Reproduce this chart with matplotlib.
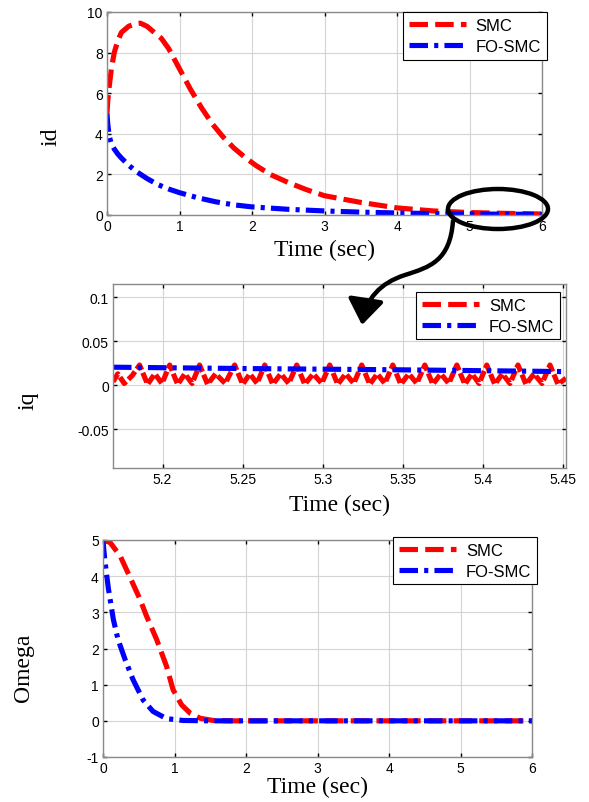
import matplotlib
matplotlib.use("Agg")
from matplotlib import pyplot as plt
from matplotlib.patches import Ellipse, FancyArrowPatch
from matplotlib.path import Path

plt.rcParams["axes.unicode_minus"] = False

# id response (top)
id_smc_t = [0, 0.01, 0.03, 0.06, 0.1, 0.15, 0.2, 0.3, 0.4, 0.46, 0.55, 0.65, 0.75, 0.85, 1.0,
            1.15, 1.3, 1.45, 1.6, 1.75, 1.9, 2.05, 2.25, 2.5, 2.75, 3.0, 3.5, 4.0, 4.5,
            5.0, 5.5, 6.0]
id_smc = [5.0, 5.6, 6.3, 7.2, 8.0, 8.6, 9.0, 9.3, 9.43, 9.45, 9.3, 9.0, 8.7, 8.2, 7.2,
          6.2, 5.3, 4.5, 3.85, 3.3, 2.85, 2.45, 2.0, 1.6, 1.25, 0.95, 0.62, 0.35, 0.2,
          0.12, 0.08, 0.05]
id_fo_t = [0, 0.01, 0.03, 0.06, 0.1, 0.15, 0.2, 0.3, 0.4, 0.55, 0.7, 0.85, 1.0, 1.25,
           1.5, 1.75, 2.0, 2.5, 3.0, 3.5, 4.0, 4.5, 5.0, 5.5, 6.0]
id_fo = [5.0, 4.5, 3.9, 3.5, 3.25, 3.0, 2.8, 2.45, 2.15, 1.8, 1.5, 1.28, 1.1, 0.85,
         0.65, 0.5, 0.4, 0.28, 0.2, 0.14, 0.1, 0.07, 0.05, 0.04, 0.03]

# iq zoom (middle): chattering of SMC, peaks and the small bumps between them
iq_smc_t = [5.169, 5.172, 5.176, 5.181,
            5.1856, 5.1906, 5.1951, 5.1996,
            5.2044, 5.2094, 5.2139, 5.2184,
            5.2231, 5.2281, 5.2331, 5.2391,
            5.245, 5.25, 5.2545, 5.259,
            5.2638, 5.2688, 5.2738, 5.2788,
            5.2838, 5.2888, 5.2941, 5.2994,
            5.3044, 5.3094, 5.3144, 5.3194,
            5.3244, 5.3294, 5.3341, 5.3388,
            5.3438, 5.3488, 5.3538, 5.3588,
            5.3638, 5.3688, 5.3738, 5.3788,
            5.3838, 5.3888, 5.3932, 5.3977,
            5.4025, 5.4075, 5.4122, 5.417,
            5.422, 5.427, 5.432, 5.437,
            5.442, 5.447, 5.452]
iq_smc = [0.004, 0.013, 0.002, 0.011,
          0.023, 0.001, 0.013, 0.002,
          0.023, 0.001, 0.013, 0.002,
          0.023, 0.001, 0.013, 0.002,
          0.023, 0.001, 0.013, 0.002,
          0.023, 0.001, 0.013, 0.002,
          0.023, 0.001, 0.013, 0.002,
          0.023, 0.001, 0.013, 0.002,
          0.023, 0.001, 0.013, 0.002,
          0.023, 0.001, 0.013, 0.002,
          0.023, 0.001, 0.013, 0.002,
          0.023, 0.001, 0.013, 0.002,
          0.023, 0.001, 0.013, 0.002,
          0.023, 0.001, 0.013, 0.002,
          0.023, 0.001, 0.008]
iq_fo_t = [5.169, 5.25, 5.35, 5.452]
iq_fo = [0.0205, 0.019, 0.0175, 0.0155]

# omega (bottom)
w_smc_t = [0, 0.1, 0.24, 0.38, 0.52, 0.61, 0.75, 0.89, 0.98, 1.1, 1.22, 1.36, 1.54,
           1.8, 2.5, 3, 4, 5, 6]
w_smc = [5.0, 4.93, 4.56, 3.96, 3.35, 2.89, 2.25, 1.5, 0.86, 0.44, 0.21, 0.07, 0.01,
         0, 0, 0, 0, 0, 0]
w_fo_t = [0, 0.01, 0.03, 0.075, 0.145, 0.21, 0.31, 0.42, 0.56, 0.7, 0.89, 1.12, 1.5,
          2, 3, 4, 5, 6]
w_fo = [5.0, 4.75, 4.37, 3.66, 2.8, 2.25, 1.69, 1.14, 0.58, 0.26, 0.06, 0.01, 0,
        0, 0, 0, 0, 0]

labels = ["SMC", "FO-SMC"]

SANS = "Liberation Sans"
SERIF = "Liberation Serif"
W, H = 589, 803


def style_axes(ax):
    ax.grid(True, color="#d4d4d4", lw=0.8)
    ax.set_axisbelow(True)
    for s in ax.spines.values():
        s.set_color("#8a8a8a")
        s.set_linewidth(1.0)
    ax.tick_params(direction="in", length=3, width=1, color="black", top=True, right=True,
                   labelsize=10, pad=3)
    for lab in ax.get_xticklabels() + ax.get_yticklabels():
        lab.set_fontfamily(SANS)


def draw(ax, t1, v1, t2, v2, red_dashes=(3.6, 1.4)):
    ax.plot(t1, v1, color="red", lw=3.7, dashes=red_dashes, dash_capstyle="butt",
            label=labels[0])
    ax.plot(t2, v2, color="blue", lw=3.7, dashes=(3.6, 1.2, 0.8, 1.2),
            dash_capstyle="butt", label=labels[1])


def legend(ax, x, y):
    leg = ax.legend(loc="upper right", bbox_to_anchor=(x, y), borderaxespad=0,
                    fancybox=False, framealpha=1, edgecolor="black", handlelength=3.4,
                    prop={"family": SANS, "size": 12}, labelspacing=0.35,
                    borderpad=0.35, handletextpad=0.6)
    leg.get_frame().set_linewidth(0.8)
    # keep the legend sample with the long dashes
    leg.get_lines()[0].set_dashes((3.6, 1.4))


def axes_px(left, right, top, bottom):
    return fig.add_axes([left / W, 1 - bottom / H, (right - left) / W, (bottom - top) / H])


fig = plt.figure(figsize=(W / 100, H / 100), dpi=100)

# top: id
ax1 = axes_px(107, 542, 13, 216)
draw(ax1, id_smc_t, id_smc, id_fo_t, id_fo)
ax1.set_xlim(0, 6)
ax1.set_ylim(0, 10)
ax1.set_xticks(range(7))
ax1.set_yticks(range(0, 11, 2))
style_axes(ax1)
ax1.set_xlabel("Time (sec)", family=SERIF, fontsize=17)
ax1.xaxis.set_label_coords(0.5, -0.118)
ax1.set_ylabel("id", family=SERIF, fontsize=17)
ax1.yaxis.set_label_coords(-0.105, 0.39)
legend(ax1, 1.011, 1.0)

# middle: iq zoom
ax2 = axes_px(113, 566, 285, 469)
draw(ax2, iq_smc_t, iq_smc, iq_fo_t, iq_fo, red_dashes=(2.0, 0.6))
ax2.set_xlim(5.169, 5.452)
ax2.set_ylim(-0.094, 0.115)
ax2.set_xticks([5.2, 5.25, 5.3, 5.35, 5.4, 5.45])
ax2.set_xticklabels(["5.2", "5.25", "5.3", "5.35", "5.4", "5.45"])
ax2.set_yticks([-0.05, 0, 0.05, 0.1])
ax2.set_yticklabels(["-0.05", "0", "0.05", "0.1"])
style_axes(ax2)
ax2.set_xlabel("Time (sec)", family=SERIF, fontsize=17)
ax2.xaxis.set_label_coords(0.5, -0.14)
ax2.set_ylabel("iq", family=SERIF, fontsize=17)
ax2.yaxis.set_label_coords(-0.165, 0.37)
legend(ax2, 0.987, 0.957)

# bottom: omega
ax3 = axes_px(103, 532, 541, 758)
draw(ax3, w_smc_t, w_smc, w_fo_t, w_fo)
ax3.set_xlim(0, 6)
ax3.set_ylim(-1, 5)
ax3.set_xticks(range(7))
ax3.set_yticks(range(-1, 6))
style_axes(ax3)
ax3.set_xlabel("Time (sec)", family=SERIF, fontsize=17)
ax3.xaxis.set_label_coords(0.5, -0.085)
ax3.set_ylabel("Omega", family=SERIF, fontsize=17)
ax3.yaxis.set_label_coords(-0.16, 0.415)
legend(ax3, 1.012, 1.014)

# zoom marker: ellipse on top plot and curved arrow to middle plot
fig.add_artist(Ellipse((498 / W, 1 - 210 / H), 100 / W, 40 / H, transform=fig.transFigure,
                       fill=False, ec="black", lw=3.2))
pts = [(453, 222), (450, 262), (430, 268), (405, 276), (380, 284), (366, 300), (362, 326)]
verts = [(x / W, 1 - y / H) for x, y in pts]
codes = [Path.MOVETO] + [Path.CURVE4] * 6
fig.add_artist(FancyArrowPatch(path=Path(verts, codes), transform=fig.transFigure,
                               arrowstyle="-|>,head_length=0.7,head_width=0.5",
                               mutation_scale=22, color="black", lw=3.2))

fig.savefig("out.png", dpi=100)
plt.close(fig)
